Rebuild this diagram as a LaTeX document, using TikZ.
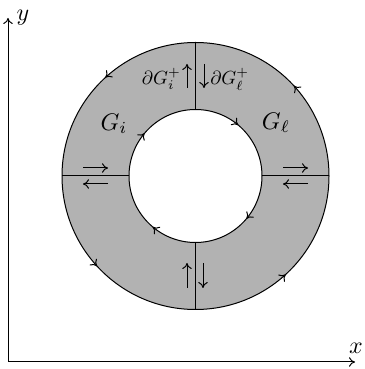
\documentclass[tikz,border=0pt]{standalone}
\usetikzlibrary{decorations.markings,calc,arrows.meta}
\begin{document}
\begin{tikzpicture}[x=1pt,y=1pt,
  tip/.style={-{To[length=6pt,width=9.5pt]}},
  edge/.style={line width=1pt},
  flux/.style={line width=1pt,tip},
  big/.style={font=\fontsize{10}{12}\selectfont, inner sep=0pt, scale=2.4},
  small/.style={font=\fontsize{10}{12}\selectfont, inner sep=0pt, scale=1.9},
  outerarrows/.style={postaction={decorate},decoration={markings,
     mark=at position 0.118 with {\arrow[line width=1pt]{To[length=6pt,width=9.5pt]}},
     mark=at position 0.368 with {\arrow[line width=1pt]{To[length=6pt,width=9.5pt]}},
     mark=at position 0.618 with {\arrow[line width=1pt]{To[length=6pt,width=9.5pt]}},
     mark=at position 0.868 with {\arrow[line width=1pt]{To[length=6pt,width=9.5pt]}}}},
  innerarrows/.style={postaction={decorate},decoration={markings,
     mark=at position 0.139 with {\arrowreversed[line width=1pt]{To[length=6pt,width=9.5pt]}},
     mark=at position 0.389 with {\arrowreversed[line width=1pt]{To[length=6pt,width=9.5pt]}},
     mark=at position 0.639 with {\arrowreversed[line width=1pt]{To[length=6pt,width=9.5pt]}},
     mark=at position 0.889 with {\arrowreversed[line width=1pt]{To[length=6pt,width=9.5pt]}}}}]
\useasboundingbox (0,0) rectangle (364,369);
% axes
\coordinate (O) at (8,7);
\coordinate (Ytip) at (8,351);
\coordinate (Xtip) at (355,7);
\draw[flux] (O) -- (Ytip);
\draw[flux] (O) -- (Xtip);
\node[big] (ylab) at (23,351) {$y$};
\node[big] (xlab) at (356,21) {$x$};
% ring
\coordinate (C) at (195.5,193);
\fill[black!30, even odd rule] (C) circle (133.5) (C) circle (66.5);
\draw[edge, outerarrows] (C) circle (133.5);
\draw[edge, innerarrows] (C) circle (66.5);
% cuts
\draw[edge] ($(C)+(0,133.5)$) -- ($(C)+(0,66.5)$);
\draw[edge] ($(C)+(0,-133.5)$) -- ($(C)+(0,-66.5)$);
\draw[edge] ($(C)+(-133.5,0)$) -- ($(C)+(-66.5,0)$);
\draw[edge] ($(C)+(133.5,0)$) -- ($(C)+(66.5,0)$);
% region labels
\node[big] (Gi) at (114,245) {$G_i$};
\node[big] (Gl) at (276,246) {$G_\ell$};
\node[small, anchor=east] (dGi) at (181,290) {$\partial G_i^+$};
\node[small, anchor=west] (dGl) at (210,290) {$\partial G_\ell^+$};
% flux arrows
\coordinate (t1a) at (187,281); \coordinate (t1b) at (187,305);
\coordinate (t2a) at (204,305); \coordinate (t2b) at (204,281);
\draw[flux] (t1a) -- (t1b);
\draw[flux] (t2a) -- (t2b);
\coordinate (b1a) at (187,81); \coordinate (b1b) at (187,106);
\coordinate (b2a) at (203,106); \coordinate (b2b) at (203,81);
\draw[flux] (b1a) -- (b1b);
\draw[flux] (b2a) -- (b2b);
\coordinate (l1a) at (83,201); \coordinate (l1b) at (108,201);
\coordinate (l2a) at (108,185); \coordinate (l2b) at (83,185);
\draw[flux] (l1a) -- (l1b);
\draw[flux] (l2a) -- (l2b);
\coordinate (r1a) at (283,201); \coordinate (r1b) at (308,201);
\coordinate (r2a) at (308,185); \coordinate (r2b) at (283,185);
\draw[flux] (r1a) -- (r1b);
\draw[flux] (r2a) -- (r2b);
\end{tikzpicture}
\end{document}
